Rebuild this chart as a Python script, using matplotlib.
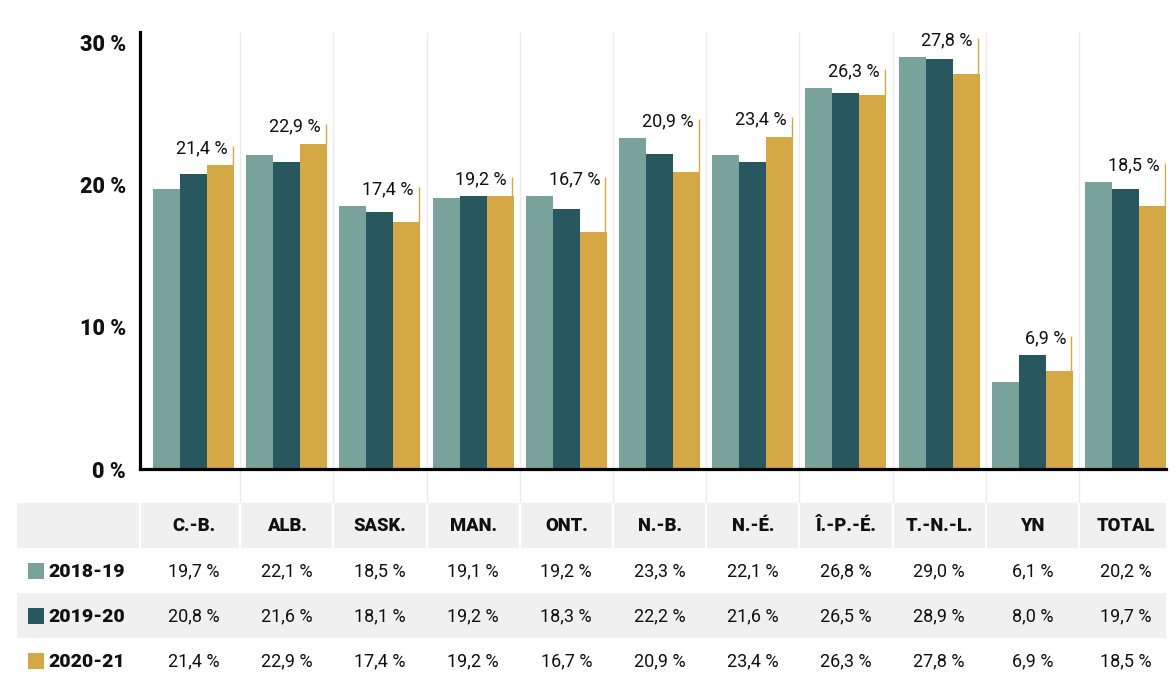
import matplotlib
matplotlib.use('Agg')
import matplotlib.pyplot as plt
import numpy as np

# ---------------- data ----------------
categories = ['C.-B.', 'ALB.', 'SASK.', 'MAN.', 'ONT.', 'N.-B.', 'N.-É.',
              'Î.-P.-É.', 'T.-N.-L.', 'YN', 'TOTAL']
years = ['2018-19', '2019-20', '2020-21']
v2018 = [19.7, 22.1, 18.5, 19.1, 19.2, 23.3, 22.1, 26.8, 29.0, 6.1, 20.2]
v2019 = [20.8, 21.6, 18.1, 19.2, 18.3, 22.2, 21.6, 26.5, 28.9, 8.0, 19.7]
v2020 = [21.4, 22.9, 17.4, 19.2, 16.7, 20.9, 23.4, 26.3, 27.8, 6.9, 18.5]
yticks = [0, 10, 20, 30]

series = [v2018, v2019, v2020]
colors = ['#79a39a', '#29575f', '#d4a845']
TXT = '#111111'
GRID = '#ebebeb'
TABLE_BG = '#f0f0f0'

plt.rcParams['font.family'] = ['Roboto', 'DejaVu Sans']


def fmt(v):
    return f'{v:.1f}'.replace('.', ',') + ' %'


W, H = 1176, 690
fig = plt.figure(figsize=(W / 100, H / 100), dpi=100)

# layout (pixels)
ax_l, ax_r, ax_t, ax_b = 140, 1166, 32, 469
px_per_unit = 93.2
xmin = -(193.5 - ax_l) / px_per_unit
xmax = xmin + (ax_r - ax_l) / px_per_unit
ymax = 30.77

# ---------------- chart ----------------
ax = fig.add_axes([ax_l / W, (H - ax_b) / H, (ax_r - ax_l) / W, (ax_b - ax_t) / H])
ax.set_zorder(3)
ax.patch.set_alpha(0)
x = np.arange(len(categories))
bw = 0.29
for k, vals in enumerate(series):
    ax.bar(x + (k - 1) * bw, vals, width=bw, color=colors[k], linewidth=0, zorder=2)

ax.vlines(x[:-1] + 0.5, 0, ymax, color=GRID, lw=1, zorder=0)

# labels on last series, with a leader rising above the tallest bar of the group
group_max = np.max(np.array(series), axis=0)
lead = 1.36
for xi, v, m in zip(x, v2020, group_max):
    xr = xi + 1.5 * bw - 0.015
    top = m + lead
    ax.vlines(xr, v, top, color=colors[2], lw=1, zorder=3)
    ax.annotate(fmt(v), xy=(xr, top), xytext=(-3.8, -1.6), textcoords='offset points',
                ha='right', va='center', fontsize=13, color=TXT)

ax.set_xlim(xmin, xmax)
ax.set_ylim(0, ymax)
ax.set_xticks([])
ax.set_yticks(yticks)
ax.set_yticklabels([f'{t} %' for t in yticks], fontsize=15.5, fontweight='black', color=TXT)
ax.tick_params(axis='y', length=0, pad=10)
for s in ['top', 'right']:
    ax.spines[s].set_visible(False)
for s in ['left', 'bottom']:
    ax.spines[s].set_linewidth(2.3)
    ax.spines[s].set_color('#000000')

# ---------------- table ----------------
tb_l, tb_b = 17, 683
row_h = 45.0
gap = (503 - ax_b) / row_h
tax = fig.add_axes([tb_l / W, (H - tb_b) / H, (ax_r - tb_l) / W, (tb_b - ax_b) / H])
tax.set_zorder(1)
txmin = xmin - (ax_l - tb_l) / px_per_unit
tax.set_xlim(txmin, xmax)
tax.set_ylim(4, -gap)
tax.axis('off')

# header background and alternating row
tax.fill_between([txmin, xmax], 0, 1, color=TABLE_BG, lw=0, zorder=0)
tax.fill_between([txmin, xmax], 2, 3, color=TABLE_BG, lw=0, zorder=0)
# chart gridlines continuing down to header
tax.vlines(x[:-1] + 0.5, -gap, 0, color=GRID, lw=1, zorder=1)
# white separators in header
tax.vlines(list(x[:-1] + 0.5) + [xmin], 0, 1, color='white', lw=1.6, zorder=1)

for xi, c in zip(x, categories):
    tax.text(xi, 0.52, c, ha='center', va='center', fontsize=13.2,
             fontweight='black', color=TXT)

for r, (yr, vals) in enumerate(zip(years, series)):
    yc = r + 1.5
    tax.scatter([txmin + 0.205], [yc], marker='s', s=125, color=colors[r],
                linewidths=0, zorder=2)
    tax.text(txmin + 0.335, yc + 0.03, yr, ha='left', va='center', fontsize=14,
             fontweight='black', color=TXT)
    for xi, v in zip(x, vals):
        tax.text(xi, yc + 0.03, fmt(v), ha='center', va='center', fontsize=13, color=TXT)

fig.savefig('out.png', dpi=100)
